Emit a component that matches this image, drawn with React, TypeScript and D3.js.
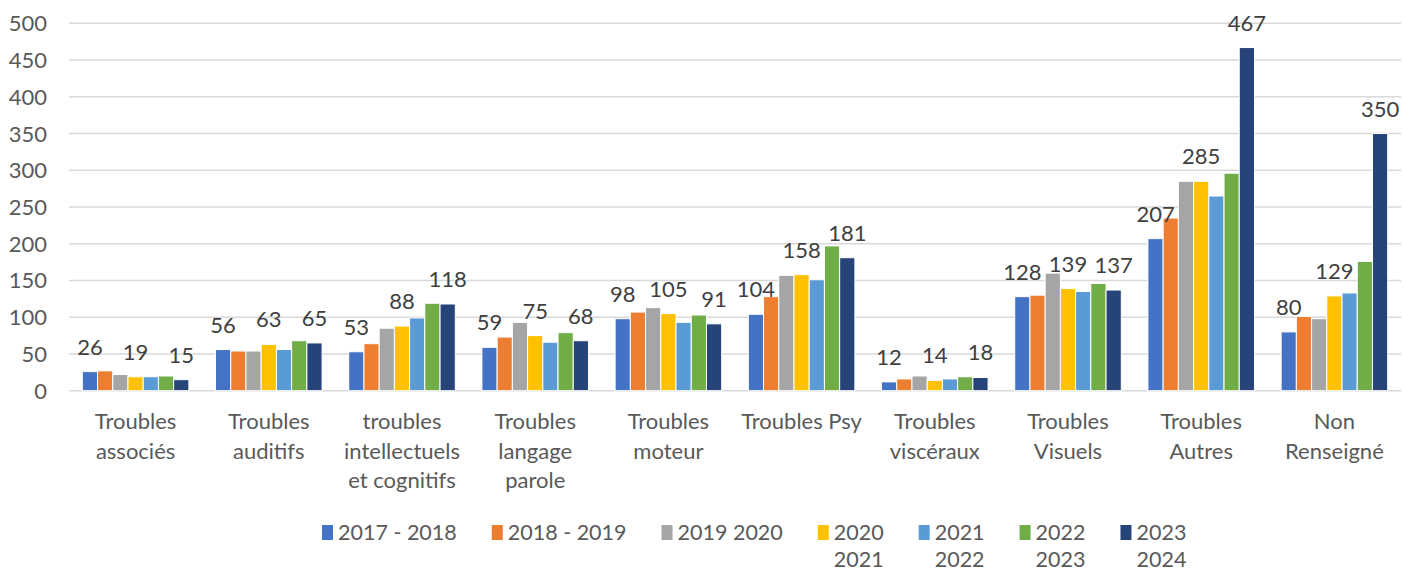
import { useEffect, useRef } from "react";
import * as d3 from "d3";

const categories = [
  ["Troubles", "associés"],
  ["Troubles", "auditifs"],
  ["troubles", "intellectuels", "et cognitifs"],
  ["Troubles", "langage", "parole"],
  ["Troubles", "moteur"],
  ["Troubles Psy"],
  ["Troubles", "viscéraux"],
  ["Troubles", "Visuels"],
  ["Troubles", "Autres"],
  ["Non", "Renseigné"],
];

const seriesNames = [
  ["2017 - 2018"],
  ["2018 - 2019"],
  ["2019 2020"],
  ["2020", "2021"],
  ["2021", "2022"],
  ["2022", "2023"],
  ["2023", "2024"],
];

const colors = ["#4472C4", "#ED7D31", "#A5A5A5", "#FFC000", "#5B9BD5", "#70AD47", "#264478"];

const s2017 = [26, 56, 53, 59, 98, 104, 12, 128, 207, 80];
const s2018 = [27, 54, 64, 73, 107, 128, 16, 130, 235, 101];
const s2019 = [22, 54, 85, 93, 113, 157, 20, 160, 285, 98];
const s2020 = [19, 63, 88, 75, 105, 158, 14, 139, 285, 129];
const s2021 = [19, 56, 99, 66, 93, 151, 16, 135, 265, 133];
const s2022 = [20, 68, 119, 79, 103, 197, 19, 146, 296, 176];
const s2023 = [15, 65, 118, 68, 91, 181, 18, 137, 467, 350];

const series = [s2017, s2018, s2019, s2020, s2021, s2022, s2023];
const labelledSeries = [0, 3, 6];

const yTicks = [0, 50, 100, 150, 200, 250, 300, 350, 400, 450, 500];

export default function App() {
  const ref = useRef<SVGSVGElement>(null);

  useEffect(() => {
    document.body.style.margin = "0";
    const svg = d3.select(ref.current);
    svg.selectAll("*").remove();

    const width = 1404;
    const height = 572;
    const left = 69;
    const right = 1401;
    const font = "Lato, 'Open Sans', sans-serif";
    const textColor = "#595959";

    svg.attr("width", width).attr("height", height);

    const y = d3.scaleLinear().domain([0, 500]).range([390.7, 23.3]);
    const x0 = d3
      .scaleBand<number>()
      .domain(d3.range(categories.length))
      .range([left, right])
      .paddingInner(0.2)
      .paddingOuter(0.1);
    const x1 = d3
      .scaleBand<number>()
      .domain(d3.range(series.length))
      .range([0, x0.bandwidth()]);

    // grid
    svg.append("g")
      .selectAll("line")
      .data(yTicks)
      .join("line")
      .attr("x1", left)
      .attr("x2", right)
      .attr("y1", d => y(d))
      .attr("y2", d => y(d))
      .attr("stroke", "#d9d9d9")
      .attr("stroke-width", 1.5);

    svg.append("g")
      .selectAll("text")
      .data(yTicks)
      .join("text")
      .attr("x", 47)
      .attr("y", d => y(d) + 8)
      .attr("text-anchor", "end")
      .style("font-family", font)
      .style("font-size", "22px")
      .style("fill", textColor)
      .text(d => d);

    // bars
    const groups = svg.append("g")
      .selectAll("g")
      .data(series)
      .join("g")
      .attr("fill", (_, i) => colors[i]);

    groups.each(function (vals, si) {
      d3.select(this)
        .selectAll("rect")
        .data(vals)
        .join("rect")
        .attr("x", (_, ci) => x0(ci)! + x1(si)!)
        .attr("width", x1.bandwidth())
        .attr("y", d => y(d))
        .attr("height", d => y(0) - y(d))
        .attr("stroke", "white")
        .attr("stroke-width", 1);
    });

    // data labels
    labelledSeries.forEach(si => {
      svg.append("g")
        .selectAll("text")
        .data(series[si])
        .join("text")
        .attr("x", (_, ci) => x0(ci)! + x1(si)! + x1.bandwidth() / 2)
        .attr("y", d => y(d) - 17)
        .attr("text-anchor", "middle")
        .style("font-family", font)
        .style("font-size", "22px")
        .style("fill", "#404040")
        .text(d => d);
    });

    // category labels
    const cat = svg.append("g")
      .selectAll("text")
      .data(categories)
      .join("text")
      .attr("x", (_, i) => x0(i)! + x0.bandwidth() / 2)
      .attr("y", 429)
      .attr("text-anchor", "middle")
      .style("font-family", font)
      .style("font-size", "22px")
      .style("fill", textColor);
    cat.each(function (lines) {
      const t = d3.select(this);
      lines.forEach((l, i) => {
        t.append("tspan")
          .attr("x", t.attr("x"))
          .attr("dy", i === 0 ? 0 : 29.5)
          .text(l);
      });
    });

    // legend
    const legend = svg.append("g");
    let lx = 322;
    seriesNames.forEach((lines, i) => {
      const item = legend.append("g").attr("transform", `translate(${lx},0)`);
      item.append("rect")
        .attr("x", 0)
        .attr("y", 525)
        .attr("width", 11)
        .attr("height", 15)
        .attr("fill", colors[i]);
      const t = item.append("text")
        .attr("x", 16)
        .attr("y", 539.5)
        .style("font-family", font)
        .style("font-size", "21.5px")
        .style("fill", textColor);
      lines.forEach((l, j) => {
        t.append("tspan").attr("x", 16).attr("dy", j === 0 ? 0 : 27.5).text(l);
      });
      const w = (t.node() as SVGTextElement).getComputedTextLength() / lines.length;
      lx += 16 + Math.max(w, 0) + 35;
    });
  }, []);

  return <svg ref={ref} style={{ display: "block" }}></svg>;
}
